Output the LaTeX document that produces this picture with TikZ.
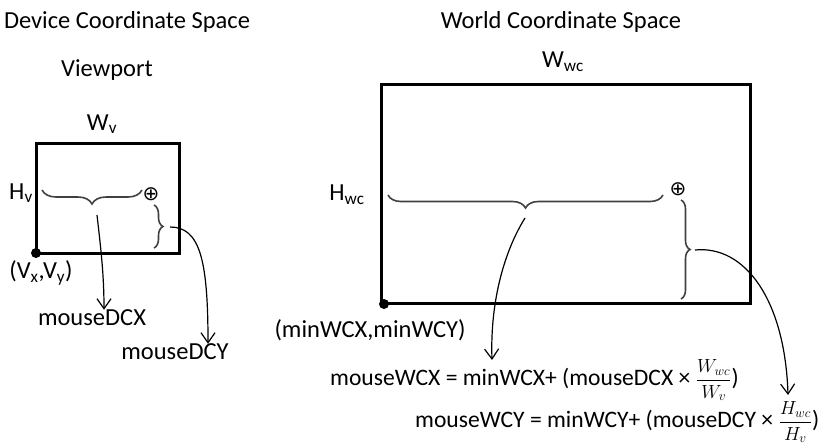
\RequirePackage{fix-cm}
\documentclass[tikz,border=0pt]{standalone}
\usepackage{fontspec}
\setmainfont{Carlito}
\newfontfamily\symfont{DejaVu Sans}
\usetikzlibrary{arrows.meta,decorations.pathreplacing}
\newcommand{\myfrac}[2]{{\fontsize{19}{22}\selectfont$\displaystyle\frac{#1}{#2}$}}
\begin{document}
\begin{tikzpicture}[x=1pt,y=-1pt,
  lbl/.style={inner sep=0pt,font=\fontsize{24.5}{28}\selectfont},
  eq/.style={inner sep=0pt,font=\fontsize{23.6}{27}\selectfont,anchor=base west},
  frame/.style={line width=3pt},
  bracedeco/.style={decorate,decoration={brace,amplitude=#1},line width=1.6pt,draw=black!75},
  conn/.style={line width=1.2pt,-{Straight Barb[length=10pt,width=14pt,line width=1.2pt]}},
  dot/.style={circle,fill=black,inner sep=0pt,minimum size=10pt},
  plus/.style={inner sep=0pt,font=\symfont\fontsize{20}{22}\selectfont}]
\useasboundingbox (0,0) rectangle (832,447);
% titles
\node[lbl] (dcs) at (127,22) {Device Coordinate Space};
\node[lbl] (wcs) at (561,22) {World Coordinate Space};
\node[lbl] (vp) at (107,70) {Viewport};
% viewport rectangle
\draw[frame] (36,143) rectangle (179,253);
\node[lbl] (wv) at (102,124) {W\textsubscript{v}};
\node[lbl] (hv) at (21,193) {H\textsubscript{v}};
\draw[bracedeco=14] (142,190) -- (42,190);
\node[plus] (pv) at (151,194) {⊕};
\draw[bracedeco=9] (154,205) -- (154,248);
\coordinate (vbs) at (170,227);
\node[dot] (vo) at (36,253) {};
\node[lbl] (vxy) at (41,273) {(V\textsubscript{x},V\textsubscript{y})};
\node[lbl] (mdx) at (92,318) {mouseDCX};
\node[lbl] (mdy) at (175,352) {mouseDCY};
\coordinate (hbs) at (97,215);
\draw[conn] (hbs) .. controls (101,250) and (104,275) .. (mdx.north -| 104,0);
\draw[conn] (vbs) .. controls (200,227) and (208,260) .. (mdy.north -| 208,0);
% world rectangle
\draw[frame] (381,84) rectangle (750,303);
\node[lbl] (wwc) at (563,62) {W\textsubscript{wc}};
\node[lbl] (hwc) at (347,195) {H\textsubscript{wc}};
\draw[bracedeco=13] (663,195) -- (388,195);
\node[plus] (pw) at (678,189) {⊕};
\draw[bracedeco=9] (681,200) -- (681,299);
\node[dot] (wo) at (384,304) {};
\node[lbl] (mwc) at (370,330) {(minWCX,minWCY)};
\node[eq] (f1) at (330,385) {mouseWCX = minWCX+ (mouseDCX × \myfrac{W_{wc}}{W_v})};
\node[eq] (f2) at (415,427) {mouseWCY = minWCY+ (mouseDCY × \myfrac{H_{wc}}{H_v})};
\coordinate (hbw) at (525,218);
\coordinate (vbw) at (695,250);
\draw[conn] (hbw) .. controls (505,250) and (490,300) .. (492,360);
\draw[conn] (vbw) .. controls (745,245) and (785,300) .. (788,395);
\end{tikzpicture}
\end{document}
